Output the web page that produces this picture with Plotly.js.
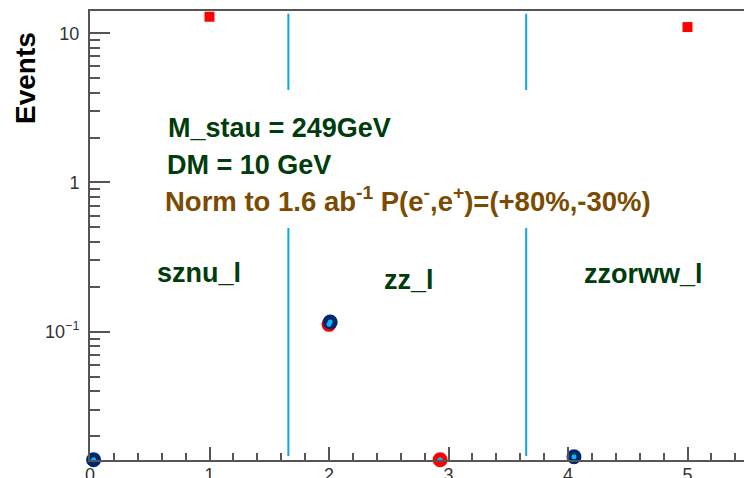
<!DOCTYPE html>
<html>
<head>
<meta charset="utf-8">
<script src="https://cdn.plot.ly/plotly-3.0.1.min.js"></script>
<style>html,body{margin:0;padding:0;background:#fff;}#chart{width:744px;height:478px;}</style>
</head>
<body>
<div id="chart"></div>
<script>
// ---- data ----
const signalX = [1, 5];
const signalY = [12.9, 11.0];
const navyX = [0.03, 2.01, 4.05];
const navyY = [0.01385, 0.116, 0.0145];
const redX = [2.0, 2.93];
const redY = [0.112, 0.01385];
const dividerX = [1.66, 3.65];
const dividerYRange = [0.0147, 13.5];
const xTickVals = [0, 1, 2, 3, 4, 5];
const xTickText = ["0", "1", "2", "3", "4", "5"];
const yTickVals = [0.1, 1, 10];
const yTickText = ["10<sup>\u22121</sup>", "1", "10"];
const yMinorVals = [0.02,0.03,0.04,0.05,0.06,0.07,0.08,0.09,0.2,0.3,0.4,0.5,0.6,0.7,0.8,0.9,2,3,4,5,6,7,8,9];
const categories = ["sznu_l", "zz_l", "zzorww_l"];
const infoLines = ["M_stau = 249GeV", "DM = 10 GeV"];
const normText = "Norm to 1.6 ab<sup>-1</sup> P(e<sup>-</sup>,e<sup>+</sup>)=(+80%,-30%)";

// ---- layout helpers ----
const L = 90, T = 11, W = 654, H = 449;
const px = x => (x - L) / W;
const py = y => (T + H - y) / H;
const FONT = "Liberation Sans, Arial, Helvetica, sans-serif";
const GREEN = "#003c0c", BROWN = "#7a4b00";
const AXC = "#555555";

const traces = [];
dividerX.forEach(x => traces.push({
  type: "scatter", mode: "lines", x: [x, x], y: dividerYRange,
  line: {color: "#0aa6e6", width: 2}, hoverinfo: "skip", showlegend: false
}));
traces.push({type: "scatter", mode: "markers", x: redX, y: redY, cliponaxis: false,
  marker: {symbol: "circle", size: 15, color: "#ff0000", line: {width: 0}}, showlegend: false});
traces.push({type: "scatter", mode: "markers", x: navyX, y: navyY, cliponaxis: false,
  marker: {symbol: "circle", size: 15, color: "#00286e", line: {width: 0}}, showlegend: false});
traces.push({type: "scatter", mode: "markers", x: navyX.concat(redX), y: navyY.concat(redY), cliponaxis: false,
  marker: {symbol: "circle", size: 5, color: "#10b4f0", line: {width: 0}}, showlegend: false});
traces.push({type: "scatter", mode: "markers", x: signalX, y: signalY, cliponaxis: false,
  marker: {symbol: "square", size: 10, color: "#ff0000", line: {width: 0}}, showlegend: false});

const catPos = [[155, 273], [382, 280], [582, 274]];
const annotations = [];
categories.forEach((c, i) => annotations.push({
  text: c, xref: "paper", yref: "paper", x: px(catPos[i][0]), y: py(catPos[i][1]),
  xanchor: "left", yanchor: "middle", showarrow: false,
  font: {family: FONT, size: 27, color: GREEN, weight: "bold"}
}));
const infoPos = [[166, 128], [165, 165]];
infoLines.forEach((t, i) => annotations.push({
  text: t, xref: "paper", yref: "paper", x: px(infoPos[i][0]), y: py(infoPos[i][1]),
  xanchor: "left", yanchor: "middle", showarrow: false,
  font: {family: FONT, size: 27, color: GREEN, weight: "bold"}
}));
annotations.push({
  text: normText, xref: "paper", yref: "paper", x: px(163), y: py(200),
  xanchor: "left", yanchor: "middle", showarrow: false,
  font: {family: FONT, size: 27.5, color: BROWN, weight: "bold"}
});
annotations.push({
  text: "Events", xref: "paper", yref: "paper", x: px(25), y: py(78),
  xanchor: "center", yanchor: "middle", textangle: -90, showarrow: false,
  font: {family: FONT, size: 28, color: "#000000", weight: "bold"}
});

const layout = {
  width: 744, height: 478,
  margin: {l: L, r: 744 - L - W, t: T, b: 478 - T - H, pad: 0},
  paper_bgcolor: "#ffffff", plot_bgcolor: "#ffffff",
  showlegend: false,
  xaxis: {
    range: [0, W / 119.5], showgrid: false, zeroline: false,
    showline: true, linecolor: AXC, linewidth: 2, mirror: true,
    tickmode: "array", tickvals: xTickVals, ticktext: xTickText,
    ticks: "inside", ticklen: 13, tickwidth: 2, tickcolor: AXC,
    minor: {dtick: 0.2, tick0: 0, ticks: "inside", ticklen: 7, tickwidth: 2, tickcolor: AXC, showgrid: false},
    tickfont: {family: FONT, size: 18, color: "#333333"},
    ticklabelstandoff: -3
  },
  yaxis: {
    type: "log", range: [-1.86, 1.149], showgrid: false, zeroline: false,
    showline: true, linecolor: AXC, linewidth: 2, mirror: false,
    tickmode: "array", tickvals: yTickVals, ticktext: yTickText,
    ticks: "inside", ticklen: 20, tickwidth: 2, tickcolor: AXC,
    minor: {tickmode: "array", tickvals: yMinorVals, ticks: "inside", ticklen: 10, tickwidth: 2, tickcolor: AXC, showgrid: false},
    tickfont: {family: FONT, size: 18, color: "#333333"},
    ticklabelstandoff: 5
  },
  shapes: [{
    type: "rect", xref: "paper", yref: "paper", layer: "above",
    x0: px(150), x1: px(700), y0: py(228), y1: py(90),
    fillcolor: "#ffffff", line: {width: 0}
  }],
  annotations: annotations
};

Plotly.newPlot("chart", traces, layout, {displayModeBar: false, staticPlot: true});
</script>
</body>
</html>
